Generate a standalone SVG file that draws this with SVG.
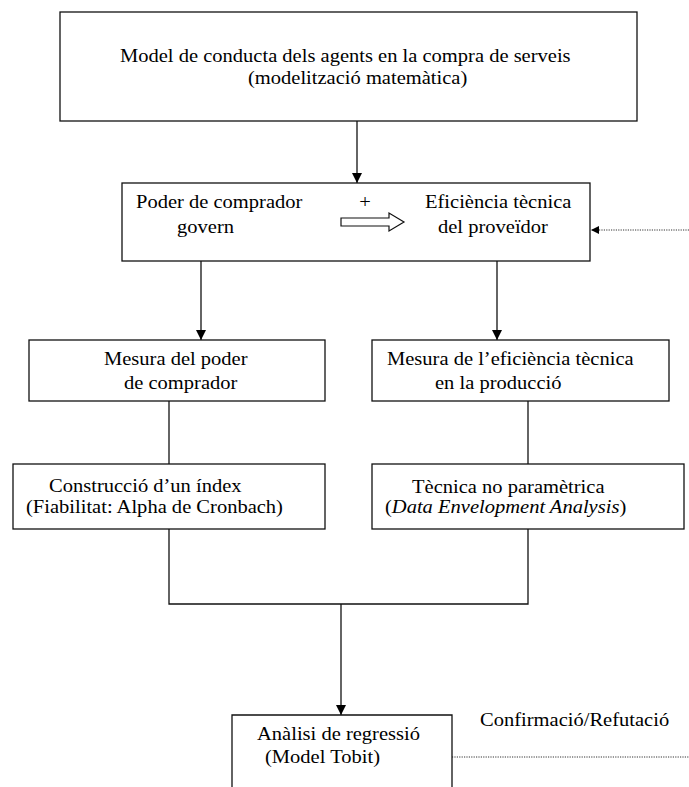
<svg xmlns="http://www.w3.org/2000/svg" width="689" height="787" viewBox="0 0 689 787">
<style>
.box{fill:#fff;stroke:#111;stroke-width:1.3}
.t{font-family:"Liberation Serif","Times New Roman",serif;font-size:18px;fill:#000}
.ln{fill:none;stroke:#111;stroke-width:1.3}
.dot{fill:none;stroke:#333;stroke-width:1;stroke-dasharray:1.2,1.2}
</style>
<defs>
<marker id="ah" viewBox="0 0 10 10" refX="10" refY="5" markerWidth="10" markerHeight="10" markerUnits="userSpaceOnUse" orient="auto">
<path d="M0,0 L10,5 L0,10 Z" fill="#000"/>
</marker>
<marker id="ahs" viewBox="0 0 10 10" refX="10" refY="5" markerWidth="9" markerHeight="8" markerUnits="userSpaceOnUse" orient="auto">
<path d="M0,0 L10,5 L0,10 Z" fill="#000"/>
</marker>
</defs>
<g id="connectors">
<line class="ln" x1="357" y1="121" x2="357" y2="183" marker-end="url(#ah)"/>
<line class="ln" x1="201" y1="261" x2="201" y2="340" marker-end="url(#ah)"/>
<line class="ln" x1="497" y1="261" x2="497" y2="340" marker-end="url(#ah)"/>
<line class="ln" x1="169" y1="401" x2="169" y2="464"/>
<line class="ln" x1="528" y1="401" x2="528" y2="464"/>
<polyline class="ln" points="169,529 169,604 528,604 528,529"/>
<line class="ln" x1="341" y1="604" x2="341" y2="715" marker-end="url(#ah)"/>
<line class="dot" x1="689" y1="230" x2="591" y2="230" marker-end="url(#ahs)"/>
<line class="dot" x1="452" y1="757" x2="689" y2="757"/>
</g>
<g id="node-model">
<rect class="box" x="60" y="12" width="577" height="109"/>
<text class="t" transform="translate(120,62) scale(1.14,1)">Model de conducta dels agents en la compra de serveis</text>
<text class="t" transform="translate(248,84) scale(1.14,1)">(modelització matemàtica)</text>
</g>
<g id="node-poder-eficiencia">
<rect class="box" x="122" y="183" width="468" height="78"/>
<text class="t" transform="translate(136,208) scale(1.14,1)">Poder de comprador</text>
<text class="t" transform="translate(177,233) scale(1.14,1)">govern</text>
<text class="t" text-anchor="middle" transform="translate(365,208) scale(1.14,1)">+</text>
<path d="M341,218 H389 V213 L404,222 L389,231 V226 H341 Z" fill="#fff" stroke="#111" stroke-width="1.2"/>
<text class="t" transform="translate(425,208) scale(1.14,1)">Eficiència tècnica</text>
<text class="t" transform="translate(438,233) scale(1.14,1)">del proveïdor</text>
</g>
<g id="node-mesura-poder">
<rect class="box" x="29" y="340" width="296" height="61"/>
<text class="t" transform="translate(104,365) scale(1.14,1)">Mesura del poder</text>
<text class="t" transform="translate(124,389) scale(1.14,1)">de comprador</text>
</g>
<g id="node-mesura-eficiencia">
<rect class="box" x="372" y="340" width="297" height="61"/>
<text class="t" transform="translate(387,365) scale(1.14,1)">Mesura de l’eficiència tècnica</text>
<text class="t" transform="translate(435,389) scale(1.14,1)">en la producció</text>
</g>
<g id="node-index">
<rect class="box" x="13" y="464" width="312" height="65"/>
<text class="t" transform="translate(49,492) scale(1.14,1)">Construcció d’un índex</text>
<text class="t" transform="translate(26,513) scale(1.14,1)">(Fiabilitat: Alpha de Cronbach)</text>
</g>
<g id="node-dea">
<rect class="box" x="372" y="464" width="312" height="65"/>
<text class="t" transform="translate(412,493) scale(1.14,1)">Tècnica no paramètrica</text>
<text class="t" transform="translate(385,513) scale(1.14,1)">(<tspan font-style="italic">Data Envelopment Analysis</tspan>)</text>
</g>
<g id="node-regressio">
<path class="ln" d="M232,787 V715 H452 V787"/>
<text class="t" transform="translate(257,740) scale(1.14,1)">Anàlisi de regressió</text>
<text class="t" transform="translate(265,763) scale(1.14,1)">(Model Tobit)</text>
</g>
<g id="label-confirmacio">
<text class="t" transform="translate(480,726) scale(1.14,1)">Confirmació/Refutació</text>
</g>
</svg>
